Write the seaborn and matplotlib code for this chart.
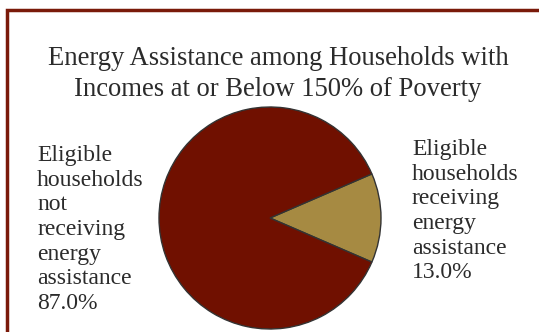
import seaborn as sns
import matplotlib.pyplot as plt
from matplotlib.patches import Rectangle

# data
categories = ['Eligible\nhouseholds\nreceiving\nenergy\nassistance',
              'Eligible\nhouseholds\nnot\nreceiving\nenergy\nassistance']
shares = [13.0, 87.0]
colors = ['#A68A42', '#701000']
title = 'Energy Assistance among Households with\nIncomes at or Below 150% of Poverty'

sns.set_theme(style='white')
plt.rcParams['font.family'] = ['Liberation Serif', 'DejaVu Serif']

fig = plt.figure(figsize=(5.39, 3.32), dpi=100, facecolor='white')

# dark red frame, cut off on the right and bottom like the original
fig.patches.append(Rectangle((7 / 539, -0.05), 1.05, 0.05 + 1 - 10 / 332,
                             transform=fig.transFigure, fill=False,
                             edgecolor='#7A1A0A', linewidth=2.5))

fig.text(278 / 539, 1 - 74 / 332, title, ha='center', va='center',
         fontsize=19.2, color='#2b2b2b', linespacing=1.36)

# pie: centre (270, 218) px, radius ~111 px
r = 111
ax = fig.add_axes([(270 - r) / 539, (332 - 218 - r) / 332, 2 * r / 539, 2 * r / 332])
ax.pie(shares, colors=colors, startangle=-23.4, counterclock=True,
       wedgeprops={'edgecolor': '#333333', 'linewidth': 1})
ax.set_aspect('auto')
ax.set_xlim(-1, 1)
ax.set_ylim(-1, 1)
ax.axis('off')

fig.text(412 / 539, 1 - 139 / 332, categories[0] + '\n%.1f%%' % shares[0],
         ha='left', va='top', fontsize=17, color='#2b2b2b', linespacing=1.23)
fig.text(37 / 539, 1 - 145 / 332, categories[1] + '\n%.1f%%' % shares[1],
         ha='left', va='top', fontsize=17, color='#2b2b2b', linespacing=1.23)

fig.savefig('out.png', dpi=100, facecolor='white')
plt.close(fig)
